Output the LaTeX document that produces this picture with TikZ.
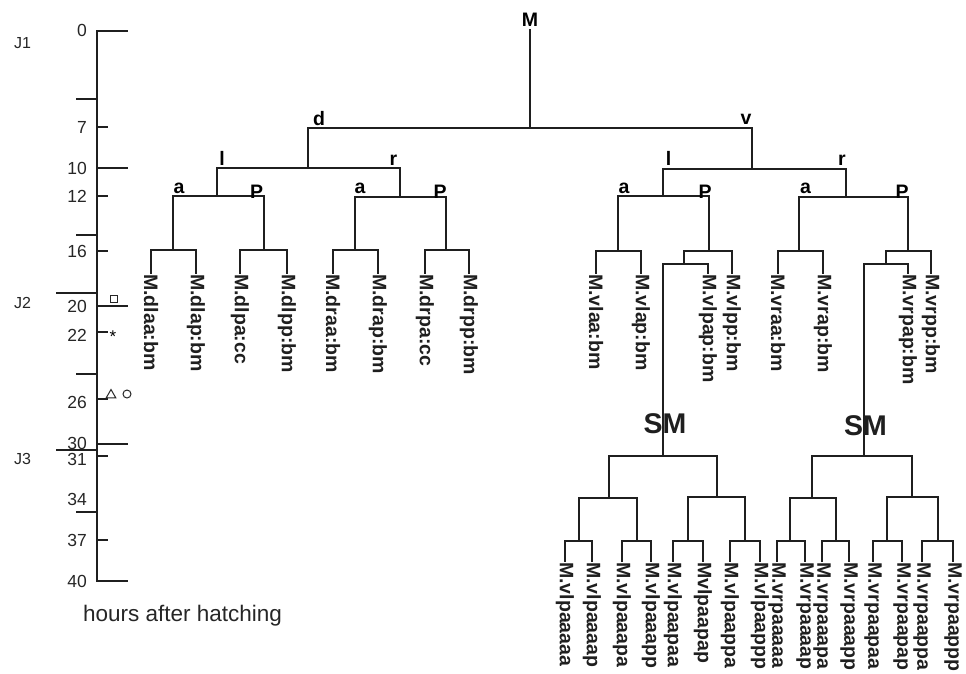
\documentclass[tikz,border=0pt]{standalone}
\usepackage{fontspec}
\setmainfont{Liberation Sans}
\usetikzlibrary{shapes.geometric,calc}
\tikzset{
  br/.style={line width=1.3pt, draw=black!88, line cap=rect},
  lbl/.style={font=\fontsize{19.5}{20}\selectfont\bfseries, inner sep=0pt, anchor=base},
  leaf/.style={font=\fontsize{19.5}{20}\selectfont\bfseries, rotate=-90, anchor=west, inner sep=1pt, text=black!88},
  num/.style={font=\fontsize{17.5}{18}\selectfont, anchor=east, inner sep=0pt, text=black!85},
  jl/.style={font=\fontsize{16}{17}\selectfont, anchor=west, inner sep=0pt, text=black!85},
  smlbl/.style={font=\fontsize{28.5}{29}\selectfont\bfseries, inner sep=0pt, text=black!88},
  symb/.style={draw=black!85, line width=1pt, inner sep=0pt},
}
\newcommand\brsplit[3]{\draw[br] (#1) -- (#1 |- #2); \draw[br] (#2) -- (#3);}
\begin{document}
\begin{tikzpicture}[x=1pt,y=-1pt]
\useasboundingbox (0,0) rectangle (966,673);
% ---------------- time axis ----------------
\coordinate (ax0) at (97,31);
\coordinate (ax40) at (97,581);
\draw[br] (ax0) -- (ax40);
\foreach \y in {31,168,306,444,581} \draw[br] (97,\y) -- (127,\y);
\foreach \y in {127,196,251,332,399,456,540} \draw[br] (97,\y) -- (107,\y);
\foreach \y in {99,235,374,512} \draw[br] (77,\y) -- (97,\y);
\foreach \y in {293,450} \draw[br] (57,\y) -- (97,\y);
\foreach \v/\y in {0/30.5,7/127.5,10/168,12/196,16/251,20/306,22/335,26/402,30/443,31/459,34/499,37/540,40/581.5}
  \node[num] (n\v) at (87,\y) {\v};
\node[jl] (J1) at (14,43) {J1};
\node[jl] (J2) at (14,303) {J2};
\node[jl] (J3) at (14,458.5) {J3};
\node[symb, rectangle, minimum size=7pt] (sq) at (113.5,299) {};
\node[font=\fontsize{17}{18}\selectfont, inner sep=0pt, yshift=-3.5pt] (ast) at (113,333) {*};
\node[symb, regular polygon, regular polygon sides=3, minimum size=11pt] (tri) at (111,395) {};
\node[symb, circle, minimum size=8pt] (circ) at (127,394) {};
\node[font=\fontsize{22.5}{23}\selectfont, anchor=base, inner sep=0pt, text=black!85] (hah) at (182.5,621) {hours after hatching};
% ---------------- tree coordinates ----------------
\coordinate (M) at (530,30);
\coordinate (d) at (308,128); \coordinate (v) at (752,128);
\coordinate (dl) at (217,168); \coordinate (dr) at (400,168);
\coordinate (vl) at (663,169); \coordinate (vr) at (846,169);
\coordinate (dla) at (173,196); \coordinate (dlp) at (264,196);
\coordinate (dra) at (355,197); \coordinate (drp) at (446,197);
\coordinate (vla) at (618,196); \coordinate (vlp) at (709,196);
\coordinate (vra) at (799,197); \coordinate (vrp) at (908,197);
\coordinate (dlaa) at (151,250); \coordinate (dlap) at (196,250);
\coordinate (dlpa) at (240,250); \coordinate (dlpp) at (287,250);
\coordinate (draa) at (333,250); \coordinate (drap) at (378,250);
\coordinate (drpa) at (425,250); \coordinate (drpp) at (469,250);
\coordinate (vlaa) at (596,251); \coordinate (vlap) at (641,251);
\coordinate (vlpa) at (684,251); \coordinate (vlpp) at (732,251);
\coordinate (vraa) at (778,251); \coordinate (vrap) at (823,251);
\coordinate (vrpa) at (886,251); \coordinate (vrpp) at (931,251);
\coordinate (vlpaa) at (663,264); \coordinate (vlpap) at (708,264);
\coordinate (vrpaa) at (864,264); \coordinate (vrpap) at (908,264);
\coordinate (vlpaaa) at (609,456); \coordinate (vlpaap) at (717,456);
\coordinate (vrpaaa) at (812,456); \coordinate (vrpaap) at (912,456);
\coordinate (vlpaaaa) at (579,498); \coordinate (vlpaaap) at (637,498);
\coordinate (vlpaapa) at (688,497); \coordinate (vlpaapp) at (745,497);
\coordinate (vrpaaaa) at (790,498); \coordinate (vrpaaap) at (836,498);
\coordinate (vrpaapa) at (887,497); \coordinate (vrpaapp) at (938,497);
\foreach \n/\x in {b1/565,b2/592,b3/622,b4/651,b5/673,b6/703,b7/730,b8/760,
                   b9/777,b10/805,b11/822,b12/849,b13/873,b14/902,b15/922,b16/953}
  \coordinate (\n) at (\x,541);
% ---------------- branches ----------------
\brsplit{M}{d}{v}
\brsplit{d}{dl}{dr}
\brsplit{v}{vl}{vr}
\brsplit{dl}{dla}{dlp}
\brsplit{dr}{dra}{drp}
\brsplit{vl}{vla}{vlp}
\brsplit{vr}{vra}{vrp}
\brsplit{dla}{dlaa}{dlap}
\brsplit{dlp}{dlpa}{dlpp}
\brsplit{dra}{draa}{drap}
\brsplit{drp}{drpa}{drpp}
\brsplit{vla}{vlaa}{vlap}
\brsplit{vlp}{vlpa}{vlpp}
\brsplit{vra}{vraa}{vrap}
\brsplit{vrp}{vrpa}{vrpp}
\brsplit{vlpa}{vlpaa}{vlpap}
\brsplit{vrpa}{vrpaa}{vrpap}
\brsplit{vlpaa}{vlpaaa}{vlpaap}
\brsplit{vrpaa}{vrpaaa}{vrpaap}
\brsplit{vlpaaa}{vlpaaaa}{vlpaaap}
\brsplit{vlpaap}{vlpaapa}{vlpaapp}
\brsplit{vrpaaa}{vrpaaaa}{vrpaaap}
\brsplit{vrpaap}{vrpaapa}{vrpaapp}
\brsplit{vlpaaaa}{b1}{b2}
\brsplit{vlpaaap}{b3}{b4}
\brsplit{vlpaapa}{b5}{b6}
\brsplit{vlpaapp}{b7}{b8}
\brsplit{vrpaaaa}{b9}{b10}
\brsplit{vrpaaap}{b11}{b12}
\brsplit{vrpaapa}{b13}{b14}
\brsplit{vrpaapp}{b15}{b16}
% ---------------- leaves ----------------
\foreach \c/\t in {dlaa/M.dlaa:bm,dlap/M.dlap:bm,dlpa/M.dlpa:cc,dlpp/M.dlpp:bm,
                   draa/M.draa:bm,drap/M.drap:bm,drpa/M.drpa:cc,drpp/M.drpp:bm,
                   vlaa/M.vlaa:bm,vlap/M.vlap:bm,vlpap/M.vlpap:bm,vlpp/M.vlpp:bm,
                   vraa/M.vraa:bm,vrap/M.vrap:bm,vrpap/M.vrpap:bm,vrpp/M.vrpp:bm}{
  \node[leaf] (L-\c) at (\c |- 0,273) {\t};
  \draw[br] (\c) -- (L-\c.west);
}
\foreach \c/\t in {b1/M.vlpaaaaa,b2/M.vlpaaaap,b3/M.vlpaaapa,b4/M.vlpaaapp,
                   b5/M.vlpaapaa,b6/Mvlpaapap,b7/M.vlpaappa,b8/M.vlpaappp,
                   b9/M.vrpaaaaa,b10/M.vrpaaaap,b11/M.vrpaaapa,b12/M.vrpaaapp,
                   b13/M.vrpaapaa,b14/M.vrpaapap,b15/M.vrpaappa,b16/M.vrpaappp}{
  \node[leaf] (L-\c) at (\c |- 0,561) {\t};
  \draw[br] (\c) -- (L-\c.west);
}
% ---------------- branch labels ----------------
\node[lbl] (lM) at (530,26) {M};
\node[lbl] (ld) at (319,125) {d};
\node[lbl] (lv) at (746,124) {v};
\node[lbl] (ldl) at (222,165) {l};
\node[lbl] (ldr) at (393.5,165) {r};
\node[lbl] (lvl) at (668.5,165) {l};
\node[lbl] (lvr) at (842,165) {r};
\node[lbl] (ldla) at (179,193) {a};
\node[lbl] (ldlp) at (256.5,198) {P};
\node[lbl] (ldra) at (360,193) {a};
\node[lbl] (ldrp) at (440,198) {P};
\node[lbl] (lvla) at (624,193) {a};
\node[lbl] (lvlp) at (705,198) {P};
\node[lbl] (lvra) at (805.5,193) {a};
\node[lbl] (lvrp) at (902,198) {P};
\node[smlbl] (sm1) at (665,423.5) {SM};
\node[smlbl] (sm2) at (865.5,426) {SM};
\end{tikzpicture}
\end{document}
